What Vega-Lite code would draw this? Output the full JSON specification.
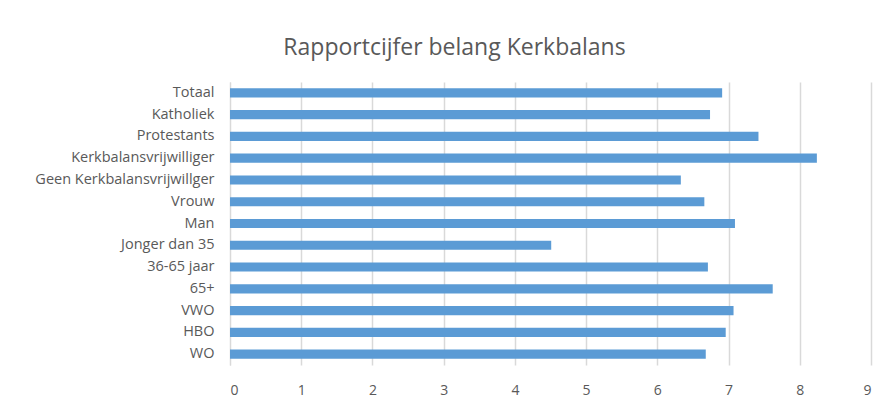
{
  "$schema": "https://vega.github.io/schema/vega-lite/v6.json",
  "width": 641,
  "height": 283,
  "autosize": "none",
  "padding": {"left": 230, "top": 82, "right": 19, "bottom": 41},
  "background": "white",
  "title": {
    "text": "Rapportcijfer belang Kerkbalans",
    "fontSize": 23,
    "font": "Open Sans",
    "fontWeight": "normal",
    "color": "#595959",
    "anchor": "middle",
    "dx": -96,
    "offset": 22
  },
  "data": {
    "values": [
      {"groep": "Totaal", "cijfer": 6.91},
      {"groep": "Katholiek", "cijfer": 6.74},
      {"groep": "Protestants", "cijfer": 7.42},
      {"groep": "Kerkbalansvrijwilliger", "cijfer": 8.24},
      {"groep": "Geen Kerkbalansvrijwillger", "cijfer": 6.33},
      {"groep": "Vrouw", "cijfer": 6.66},
      {"groep": "Man", "cijfer": 7.09},
      {"groep": "Jonger dan 35", "cijfer": 4.51},
      {"groep": "36-65 jaar", "cijfer": 6.71},
      {"groep": "65+", "cijfer": 7.62},
      {"groep": "VWO", "cijfer": 7.07},
      {"groep": "HBO", "cijfer": 6.96},
      {"groep": "WO", "cijfer": 6.68}
    ]
  },
  "mark": {"type": "bar", "color": "#5B9BD5"},
  "encoding": {
    "y": {
      "field": "groep",
      "type": "nominal",
      "sort": null,
      "scale": {"paddingInner": 0.58, "paddingOuter": 0.29},
      "axis": {
        "title": null,
        "ticks": false,
        "domainColor": "#D9D9D9",
        "domainWidth": 1,
        "labelFont": "Open Sans",
        "labelFontSize": 14.5,
        "labelColor": "#595959",
        "labelPadding": 16
      }
    },
    "x": {
      "field": "cijfer",
      "type": "quantitative",
      "scale": {"domain": [0, 9], "nice": false},
      "axis": {
        "title": null,
        "values": [0, 1, 2, 3, 4, 5, 6, 7, 8, 9],
        "domain": false,
        "ticks": false,
        "gridColor": "#D9D9D9",
        "gridWidth": 1.5,
        "labelFont": "Open Sans",
        "labelFontSize": 14,
        "labelColor": "#595959",
        "labelPadding": 18
      }
    }
  },
  "config": {"view": {"stroke": null}}
}
